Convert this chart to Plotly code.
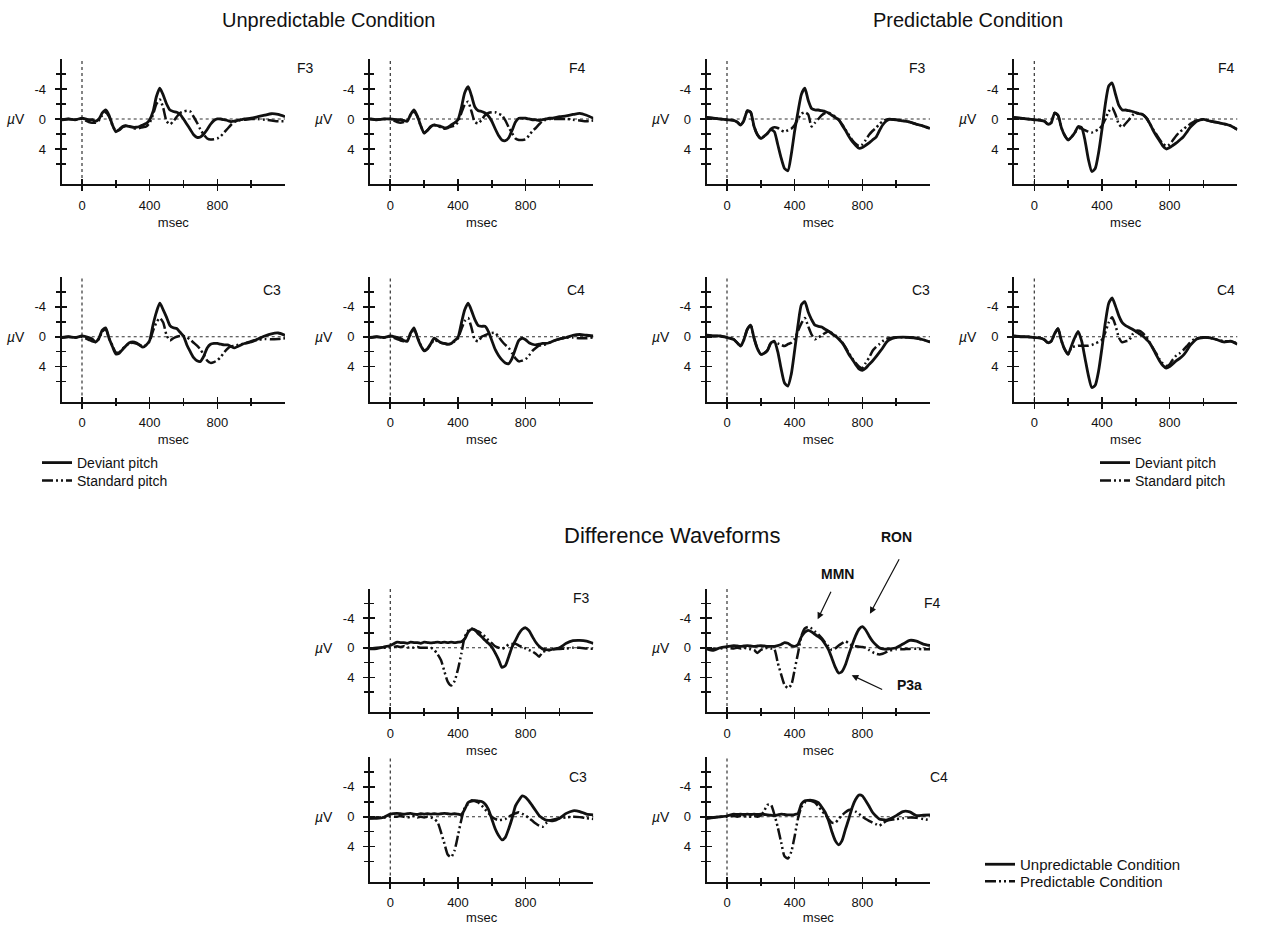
import plotly.graph_objects as go

# ---------------- data (time in ms, amplitude in microvolts) ----------------
T = [-120, -80, -40, 0, 40,
     60, 80, 100, 120, 140, 160, 180, 200, 220, 240,
     260, 280, 300, 320, 340, 360, 380, 400, 420, 440,
     460, 480, 500, 520, 540, 560, 580, 600, 620, 640,
     660, 680, 700, 720, 740, 760, 780, 800, 820, 840,
     860, 880, 900, 920, 940, 960,
     1000, 1040, 1080, 1120, 1160, 1200]

# Unpredictable condition
UF3_DEV = [0.1, 0.0, 0.1, -0.1, 0.1,
           0.1, 0.3, 0.0, -0.8, -1.2, -0.5, 0.8, 1.7, 1.4, 1.0,
           0.9, 1.0, 1.1, 1.1, 1.0, 0.8, 0.6, 0.1, -1.0, -3.0,
           -4.1, -3.2, -2.0, -1.2, -1.0, -0.9, -0.6, 0.0, 0.7, 1.4,
           2.1, 2.45, 2.4, 2.0, 1.4, 0.7, 0.2, 0.0, 0.0, 0.1,
           0.2, 0.35, 0.3, 0.2, 0.1, 0.0,
           -0.1, -0.3, -0.5, -0.7, -0.6, -0.3]
UF3_STD = [0.1, 0.0, 0.1, 0.0, 0.4,
           0.5, 0.5, 0.2, -0.5, -0.9, -0.3, 0.8, 1.6, 1.5, 1.1,
           0.9, 1.0, 1.2, 1.3, 1.2, 1.1, 1.0, 0.5, -0.6, -2.0,
           -2.6, -1.5, 0.3, 0.7, 0.3, -0.3, -0.8, -1.0, -1.1, -1.0,
           -0.3, 0.5, 1.4, 2.1, 2.6, 2.75, 2.7, 2.6, 2.3, 1.8,
           1.3, 0.8, 0.4, 0.2, 0.1, 0.1,
           0.0, 0.0, 0.1, 0.2, 0.3, 0.3]
UF4_DEV = [0.0, 0.1, 0.0, 0.0, 0.1,
           0.1, 0.2, 0.3, -0.6, -1.2, -0.4, 0.9, 1.9, 1.5, 1.0,
           0.8, 0.9, 1.0, 1.2, 1.1, 0.8, 0.5, 0.1, -1.5, -3.5,
           -4.3, -3.1, -1.6, -1.1, -1.0, -0.8, -0.4, 0.3, 1.3, 2.2,
           2.8, 2.9, 2.5, 1.5, 0.4, -0.1, -0.1, -0.1, 0.0, 0.1,
           0.1, 0.2, 0.1, 0.0, -0.1, -0.1,
           -0.3, -0.4, -0.6, -0.75, -0.5, -0.1]
UF4_STD = [0.0, 0.1, 0.0, 0.0, 0.4,
           0.5, 0.4, 0.2, -0.5, -1.0, -0.3, 0.9, 1.8, 1.5, 1.0,
           0.8, 1.0, 1.1, 1.3, 1.2, 1.0, 0.9, 0.4, -0.8, -1.9,
           -2.3, -1.0, 0.4, 0.6, 0.1, -0.5, -0.8, -0.9, -0.9, -0.7,
           -0.5, 0.2, 1.1, 1.9, 2.6, 2.8, 2.8, 2.7, 2.2, 1.6,
           1.2, 0.7, 0.3, 0.1, 0.0, 0.0,
           0.0, 0.0, 0.1, 0.2, 0.3, 0.2]
UC3_DEV = [0.1, 0.0, 0.1, -0.1, 0.1,
           0.3, 0.7, 0.2, -0.9, -1.2, 0.2, 1.3, 2.3, 2.2, 1.7,
           1.2, 0.8, 0.7, 0.8, 1.1, 1.4, 1.1, 0.5, -1.6, -3.3,
           -4.5, -3.6, -2.6, -1.5, -1.2, -1.1, -0.6, -0.1, 1.1, 2.0,
           2.8, 3.2, 3.3, 2.6, 1.5, 1.0, 0.9, 0.9, 1.0, 1.1,
           1.1, 1.3, 1.5, 1.3, 1.1, 0.9,
           0.7, 0.3, -0.1, -0.4, -0.5, -0.2]
UC3_STD = [0.1, 0.0, 0.1, 0.0, 0.4,
           0.6, 0.7, 0.3, -0.7, -1.0, 0.2, 1.2, 2.1, 2.1, 1.6,
           1.2, 0.9, 0.8, 0.9, 1.1, 1.3, 1.1, 0.6, -0.8, -1.9,
           -2.5, -1.9, -0.2, 0.5, 0.2, 0.0, -0.1, -0.1, 0.1, 0.4,
           0.8, 1.2, 1.7, 2.4, 3.2, 3.5, 3.4, 3.15, 2.7, 2.1,
           1.6, 1.3, 1.2, 1.1, 1.0, 0.9,
           0.6, 0.4, 0.3, 0.35, 0.3, 0.2]
UC4_DEV = [0.1, 0.0, 0.1, -0.1, 0.1,
           0.2, 0.5, 0.6, -0.5, -1.2, 0.1, 1.2, 1.9, 1.6, 0.9,
           0.2, 0.5, 0.8, 0.9, 1.0, 0.9, 0.5, 0.1, -1.8, -3.6,
           -4.5, -3.5, -2.3, -1.5, -1.4, -1.4, -0.7, 0.5, 1.7, 2.5,
           3.1, 3.5, 3.6, 2.9, 1.6, 0.5, 0.2, 0.4, 0.8, 1.0,
           1.1, 1.0, 0.9, 0.9, 0.8, 0.6,
           0.3, 0.1, -0.2, -0.3, -0.2, -0.1]
UC4_STD = [0.1, 0.0, 0.1, 0.0, 0.3,
           0.5, 0.6, 0.5, -0.3, -1.0, 0.0, 1.1, 1.8, 1.6, 1.0,
           0.4, 0.6, 0.8, 0.9, 1.0, 0.9, 0.6, 0.2, -1.0, -2.1,
           -2.5, -1.2, 0.4, 0.6, 0.0, -0.2, -0.4, -0.5, -0.5, 0.0,
           0.6, 1.1, 1.5, 2.2, 2.9, 3.3, 3.2, 3.0, 2.5, 1.9,
           1.5, 1.2, 1.1, 1.0, 0.8, 0.6,
           0.3, 0.1, 0.1, 0.2, 0.2, 0.1]

# Predictable condition
PF3_DEV = [-0.2, -0.1, 0.0, 0.1, 0.2,
           0.4, 0.8, 0.2, -1.1, -0.9, 1.0, 2.1, 2.6, 2.3, 1.9,
           1.4, 1.7, 3.4, 5.2, 6.6, 6.9, 4.7, 1.6, -1.0, -3.3,
           -4.1, -2.5, -1.4, -1.2, -1.2, -1.1, -1.0, -0.8, -0.5, -0.2,
           0.1, 0.8, 1.5, 2.3, 3.0, 3.5, 3.9, 3.8, 3.5, 3.2,
           2.8, 2.45, 1.6, 0.8, 0.3, 0.05,
           0.1, 0.25, 0.4, 0.7, 0.95, 1.25]
PF3_STD = [-0.2, -0.1, 0.0, 0.1, 0.2,
           0.4, 0.8, 0.2, -1.1, -0.9, 1.0, 2.1, 2.6, 2.3, 1.9,
           1.3, 1.1, 1.2, 1.5, 1.7, 1.5, 1.3, 0.8, 0.0, -0.7,
           -0.9, -0.6, 1.0, 0.5, 0.0, -0.5, -0.8, -0.8, -0.6, -0.3,
           0.1, 0.7, 1.4, 2.1, 2.8, 3.3, 3.6, 3.4, 2.8, 2.1,
           1.6, 1.2, 0.7, 0.3, 0.1, 0.0,
           0.1, 0.25, 0.4, 0.7, 0.95, 1.25]
PF4_DEV = [-0.2, -0.1, 0.0, 0.1, 0.2,
           0.3, 0.7, 0.5, -0.8, -0.5, 1.15, 2.2, 2.8, 2.4, 1.8,
           1.0, 1.15, 2.9, 5.4, 7.0, 6.6, 4.5, 1.4, -2.0, -4.4,
           -4.8, -3.3, -1.8, -1.2, -1.2, -1.1, -1.0, -0.85, -0.7, -0.6,
           -0.2, 0.5, 1.4, 2.2, 2.9, 3.6, 4.0, 3.8, 3.5, 3.2,
           2.8, 2.4, 1.8, 1.15, 0.7, 0.3,
           0.05, 0.3, 0.45, 0.65, 0.9, 1.4]
PF4_STD = [-0.2, -0.1, 0.0, 0.1, 0.2,
           0.3, 0.7, 0.5, -0.8, -0.5, 1.15, 2.2, 2.8, 2.4, 1.8,
           1.2, 1.3, 1.5, 1.7, 1.8, 1.6, 1.4, 0.9, 0.0, -1.0,
           -1.5, -0.6, 0.7, 1.1, 0.6, 0.1, -0.5, -0.8, -0.7, -0.6,
           -0.2, 0.5, 1.3, 2.0, 2.7, 3.3, 3.6, 3.4, 2.8, 2.2,
           1.7, 1.4, 1.0, 0.7, 0.4, 0.2,
           0.05, 0.3, 0.45, 0.65, 0.9, 1.4]
PC3_DEV = [-0.2, -0.1, -0.1, 0.1, 0.35,
           0.8, 1.25, 0.4, -1.0, -1.55, 0.2, 1.6, 2.35, 2.2, 1.8,
           0.8, 0.6, 2.0, 4.3, 6.2, 6.6, 5.0, 1.8, -1.6, -4.3,
           -4.7, -3.3, -2.3, -1.55, -1.4, -1.3, -1.0, -0.75, -0.4, -0.1,
           0.3, 0.8, 1.5, 2.35, 3.0, 3.7, 4.3, 4.5, 4.2, 3.7,
           3.25, 2.7, 2.1, 1.5, 0.8, 0.4,
           0.1, 0.05, 0.1, 0.2, 0.4, 0.7]
PC3_STD = [-0.2, -0.1, -0.1, 0.1, 0.35,
           0.8, 1.25, 0.4, -1.0, -1.55, 0.2, 1.6, 2.35, 2.2, 1.8,
           0.8, 0.7, 0.9, 1.1, 1.25, 1.0, 0.8, 0.3, -0.8, -1.8,
           -2.5, -1.4, -0.3, 0.35, 0.1, -0.2, -0.5, -0.75, -0.5, -0.2,
           0.2, 0.7, 1.4, 2.2, 2.9, 3.5, 4.0, 4.2, 3.5, 2.8,
           1.9, 1.4, 1.0, 0.6, 0.3, 0.2,
           0.1, 0.05, 0.1, 0.2, 0.4, 0.7]
PC4_DEV = [-0.1, 0.0, 0.0, 0.1, 0.2,
           0.4, 0.8, 0.6, -0.4, -1.1, 0.5, 1.7, 2.35, 1.2, 0.1,
           -0.7, 0.6, 2.9, 5.2, 6.8, 6.5, 4.6, 1.5, -1.9, -4.5,
           -5.2, -4.1, -2.8, -1.9, -1.5, -1.25, -1.0, -0.7, -0.4, -0.15,
           0.3, 0.75, 1.5, 2.4, 3.2, 3.85, 4.2, 4.0, 3.6, 3.2,
           2.9, 2.5, 1.9, 1.2, 0.7, 0.3,
           0.1, 0.15, 0.4, 0.7, 0.6, 1.0]
PC4_STD = [-0.1, 0.0, 0.0, 0.1, 0.2,
           0.4, 0.8, 0.6, -0.4, -1.1, 0.5, 1.7, 2.35, 1.4, 1.3,
           1.2, 1.2, 1.2, 1.2, 1.1, 0.9, 0.7, 0.4, -0.6, -1.9,
           -2.6, -1.5, 0.1, 0.75, 0.6, 0.5, -0.3, -0.8, -0.8, -0.5,
           0.0, 0.7, 1.5, 2.2, 3.0, 3.6, 3.9, 3.7, 3.0, 2.5,
           2.2, 1.8, 1.3, 0.8, 0.4, 0.2,
           0.1, 0.15, 0.4, 0.6, 0.6, 0.9]

# Difference waveforms (deviant minus standard)
DF3_UNP = [0.15, 0.1, -0.1, -0.3, -0.75,
           -0.7, -0.7, -0.6, -0.75, -0.7, -0.7, -0.6, -0.75, -0.7, -0.65,
           -0.7, -0.75, -0.7, -0.75, -0.7, -0.75, -0.7, -0.75, -0.8, -1.2,
           -2.1, -2.5, -2.4, -1.9, -1.5, -1.0, -0.6, -0.1, 0.7, 1.6,
           2.65, 2.4, 1.2, -0.1, -1.0, -1.9, -2.5, -2.7, -2.3, -1.5,
           -0.75, -0.2, 0.15, 0.25, 0.3, 0.2,
           0.0, -0.6, -0.95, -1.0, -0.9, -0.6]
DF3_PRE = [0.1, 0.0, 0.0, 0.0, -0.2,
           -0.1, -0.2, 0.0, -0.1, 0.0, -0.1, 0.0, 0.0, 0.0, 0.0,
           0.3, 0.9, 1.7, 3.2, 4.6, 5.1, 4.5, 2.9, 0.8, -1.45,
           -2.3, -2.6, -2.4, -2.2, -1.9, -1.5, -1.0, -0.6, -0.2, 0.0,
           0.15, -0.1, -0.45, -0.5, -0.55, -0.3, -0.1, 0.1, 0.3, 0.5,
           0.8, 1.2, 0.6, 0.4, 0.3, 0.2,
           0.15, 0.1, 0.0, 0.0, 0.1, 0.15]
DF4_UNP = [0.15, 0.35, 0.0, -0.15, -0.3,
           -0.25, -0.2, -0.25, -0.3, -0.25, -0.2, -0.25, -0.3, -0.25, -0.2,
           -0.2, -0.2, -0.3, -0.45, -0.7, -0.6, -0.3, -0.2, -0.45, -1.5,
           -2.1, -2.35, -2.15, -1.8, -1.5, -1.15, -0.5, 0.25, 1.4, 2.6,
           3.4, 3.2, 2.3, 0.9, -0.4, -1.6, -2.5, -2.85, -2.4, -1.6,
           -0.9, -0.4, 0.0, 0.15, 0.2, 0.15,
           0.0, -0.5, -1.0, -0.9, -0.5, -0.3]
DF4_PRE = [0.1, 0.2, 0.1, 0.0, 0.1,
           0.0, 0.1, 0.0, 0.1, 0.2, 0.3, 0.7, 0.3, 0.1, 0.0,
           0.1, 0.2, 2.0, 3.6, 5.0, 5.45, 5.0, 2.95, 0.7, -1.6,
           -2.6, -2.8, -2.6, -2.2, -1.8, -1.3, -0.7, -0.2, 0.3, 0.1,
           -0.3, -0.6, -0.9, -0.6, -0.3, -0.2, -0.15, -0.1, 0.0, 0.3,
           0.6, 0.8, 0.9, 0.8, 0.6, 0.4,
           0.2, 0.2, 0.15, 0.15, 0.2, 0.2]
DC3_UNP = [0.2, 0.2, 0.1, -0.35, -0.45,
           -0.4, -0.35, -0.4, -0.45, -0.35, -0.3, -0.4, -0.35, -0.4, -0.35,
           -0.4, -0.35, -0.4, -0.45, -0.4, -0.35, -0.4, -0.35, -0.3, -1.0,
           -1.9, -2.1, -2.15, -2.1, -2.05, -1.7, -1.0, 0.3, 1.6, 2.5,
           3.1, 2.75, 1.6, 0.2, -1.45, -2.2, -2.8, -2.6, -2.1, -1.45,
           -0.8, -0.15, 0.2, 0.45, 0.5, 0.55,
           0.2, -0.45, -0.8, -0.7, -0.35, -0.25]
DC3_PRE = [0.2, 0.1, 0.1, 0.0, 0.0,
           -0.1, 0.0, 0.1, 0.0, -0.1, 0.1, 0.0, 0.1, 0.0, 0.1,
           0.3, 0.75, 2.1, 3.6, 5.1, 5.4, 4.5, 2.5, 0.4, -1.2,
           -1.7, -2.2, -2.1, -1.9, -1.5, -1.0, -0.5, 0.0, 0.3, 0.45,
           0.4, 0.3, 0.0, -0.25, -0.45, -0.6, -0.4, -0.15, 0.2, 0.55,
           0.9, 1.2, 1.35, 0.9, 0.55, 0.4,
           0.2, 0.1, 0.0, 0.05, 0.2, 0.3]
DC4_UNP = [0.2, 0.1, 0.0, -0.1, -0.35,
           -0.3, -0.35, -0.3, -0.35, -0.3, -0.35, -0.3, -0.35, -0.3, -0.25,
           -0.2, -0.15, -0.25, -0.35, -0.3, -0.25, -0.25, -0.3, -0.45, -1.7,
           -2.15, -2.2, -2.2, -2.1, -1.9, -1.3, -0.6, 0.5, 2.0, 3.2,
           3.75, 3.2, 1.7, 0.3, -1.25, -2.3, -2.9, -2.8, -2.15, -1.4,
           -0.6, -0.1, 0.3, 0.4, 0.45, 0.3,
           -0.15, -0.7, -0.65, -0.15, -0.2, -0.25]
DC4_PRE = [0.2, 0.1, 0.0, 0.0, -0.1,
           0.0, -0.1, 0.0, -0.1, 0.0, -0.1, 0.0, -0.2, -0.8, -1.6,
           -1.6, -0.3, 1.4, 3.4, 5.3, 5.6, 4.7, 2.6, 0.2, -1.3,
           -1.9, -2.2, -2.1, -1.9, -1.4, -0.8, -0.3, 0.3, 0.8, 0.8,
           0.3, -0.2, -0.6, -0.9, -0.95, -0.7, -0.4, 0.0, 0.3, 0.55,
           0.8, 1.0, 1.2, 0.9, 0.6, 0.45,
           0.3, 0.2, 0.1, 0.15, 0.3, 0.45]

X_TICKS = [0, 400, 800]
X_TICK_TEXT = ['0', '400', '800']
X_MINOR = [200, 600, 1000]
Y_TICKS = [-4, 0, 4]
Y_TICK_TEXT = ['-4', '0', '4']
Y_MINOR = [-6, -2, 2, 6]

# ---------------- layout geometry (pixels) ----------------
W, H = 1264, 925
FONT = 'Liberation Sans, Arial, Helvetica, sans-serif'
COLX = {'A': 61.7, 'B': 370.0, 'C': 706.7, 'D': 1014.0}
ROWY = {1: (59.0, 184.0), 2: (277.0, 401.5), 3: (588.5, 712.0), 4: (757.0, 881.5)}
PW = 223.3
XR = [-120, 1200]
YR = [8.67, -8]

# (label, col, row, solid series, dashed series, legend ids, solid name, dashed name, label right px, label y px)
panels = [
    ('F3', 'A', 1, UF3_DEV, UF3_STD, ('legend', 'legend2'), 'Deviant pitch', 'Standard pitch', 316, 68),
    ('F4', 'B', 1, UF4_DEV, UF4_STD, ('legend', 'legend2'), 'Deviant pitch', 'Standard pitch', 588, 68),
    ('F3', 'C', 1, PF3_DEV, PF3_STD, ('legend3', 'legend4'), 'Deviant pitch', 'Standard pitch', 928, 68),
    ('F4', 'D', 1, PF4_DEV, PF4_STD, ('legend3', 'legend4'), 'Deviant pitch', 'Standard pitch', 1237, 68),
    ('C3', 'A', 2, UC3_DEV, UC3_STD, ('legend', 'legend2'), 'Deviant pitch', 'Standard pitch', 283, 290),
    ('C4', 'B', 2, UC4_DEV, UC4_STD, ('legend', 'legend2'), 'Deviant pitch', 'Standard pitch', 587, 290),
    ('C3', 'C', 2, PC3_DEV, PC3_STD, ('legend3', 'legend4'), 'Deviant pitch', 'Standard pitch', 932, 290),
    ('C4', 'D', 2, PC4_DEV, PC4_STD, ('legend3', 'legend4'), 'Deviant pitch', 'Standard pitch', 1237, 290),
    ('F3', 'B', 3, DF3_UNP, DF3_PRE, ('legend5', 'legend6'), 'Unpredictable Condition', 'Predictable Condition', 592, 598),
    ('F4', 'C', 3, DF4_UNP, DF4_PRE, ('legend5', 'legend6'), 'Unpredictable Condition', 'Predictable Condition', 943, 603),
    ('C3', 'B', 4, DC3_UNP, DC3_PRE, ('legend5', 'legend6'), 'Unpredictable Condition', 'Predictable Condition', 589, 777),
    ('C4', 'C', 4, DC4_UNP, DC4_PRE, ('legend5', 'legend6'), 'Unpredictable Condition', 'Predictable Condition', 950, 777),
]

DASH = '11px,3px,2px,3px,2px,3px'
N = len(panels)
INK = '#111111'

fig = go.Figure()
layout = {}
annotations = []
shapes = []
seen_legends = set()


def ax_id(prefix, i):
    return prefix if i == 1 else f'{prefix}{i}'


for i, (lab, col, row, solid, dashed, legs, nsolid, ndashed, lx, ly) in enumerate(panels, start=1):
    xid, yid = ax_id('x', i), ax_id('y', i)
    show = legs[0] not in seen_legends
    seen_legends.add(legs[0])
    fig.add_trace(go.Scatter(x=T, y=solid, mode='lines', name=nsolid, legend=legs[0], showlegend=show,
                             line=dict(color=INK, width=2.8, shape='spline', smoothing=0.6),
                             xaxis=xid, yaxis=yid, hoverinfo='skip'))
    fig.add_trace(go.Scatter(x=T, y=dashed, mode='lines', name=ndashed, legend=legs[1], showlegend=show,
                             line=dict(color=INK, width=2.5, dash=DASH, shape='spline', smoothing=0.6),
                             xaxis=xid, yaxis=yid, hoverinfo='skip'))

    px0 = COLX[col]
    top, bot = ROWY[row]
    dom_x = [px0 / W, (px0 + PW) / W]
    dom_y = [1 - bot / H, 1 - top / H]
    layout[ax_id('xaxis', i)] = dict(
        domain=dom_x, anchor=yid, range=XR, showline=True, linewidth=2, linecolor=INK,
        ticks='outside', ticklen=5, tickwidth=1.6, tickcolor=INK,
        tickmode='array', tickvals=X_TICKS, ticktext=X_TICK_TEXT,
        minor=dict(tickmode='array', tickvals=X_MINOR, ticks='outside', ticklen=2, tickwidth=1.6, tickcolor=INK),
        showgrid=False, zeroline=False, fixedrange=True, ticklabelstandoff=3,
        tickfont=dict(family=FONT, size=13, color=INK),
        title=dict(text='msec', standoff=6, font=dict(family=FONT, size=13, color=INK)))
    layout[ax_id('yaxis', i)] = dict(
        domain=dom_y, anchor=xid, range=YR, showline=True, linewidth=2, linecolor=INK,
        ticks='outside', ticklen=5, tickwidth=1.6, tickcolor=INK,
        tickmode='array', tickvals=Y_TICKS, ticktext=Y_TICK_TEXT,
        minor=dict(tickmode='array', tickvals=Y_MINOR, ticks='outside', ticklen=4, tickwidth=1.6, tickcolor=INK),
        showgrid=False, zeroline=False, fixedrange=True, ticklabelstandoff=6,
        tickfont=dict(family=FONT, size=13, color=INK))

    # overlay axes giving the inward half of the crossing tick marks
    oxid, oyid = f'x{i + N}', f'y{i + N}'
    fig.add_trace(go.Scatter(x=[None], y=[None], mode='lines', showlegend=False,
                             xaxis=oxid, yaxis=oyid, hoverinfo='skip'))
    layout[f'xaxis{i + N}'] = dict(
        overlaying=xid, anchor=oyid, range=XR, showline=False, showticklabels=False,
        ticks='inside', ticklen=5, tickwidth=1.6, tickcolor=INK,
        tickmode='array', tickvals=X_TICKS,
        minor=dict(tickmode='array', tickvals=X_MINOR, ticks='inside', ticklen=4, tickwidth=1.6, tickcolor=INK),
        showgrid=False, zeroline=False, fixedrange=True)
    layout[f'yaxis{i + N}'] = dict(
        overlaying=yid, anchor=oxid, range=YR, showline=False, showticklabels=False,
        ticks='inside', ticklen=5, tickwidth=1.6, tickcolor=INK,
        tickmode='array', tickvals=Y_TICKS,
        minor=dict(tickmode='array', tickvals=Y_MINOR, ticks='inside', ticklen=4, tickwidth=1.6, tickcolor=INK),
        showgrid=False, zeroline=False, fixedrange=True)

    # dotted reference lines (0 uV and stimulus onset)
    shapes.append(dict(type='line', xref=f'{xid} domain', x0=0, x1=1, yref=yid, y0=0, y1=0,
                       line=dict(color='#333333', width=1.2, dash='dot'), layer='below'))
    shapes.append(dict(type='line', xref=xid, x0=0, x1=0, yref=f'{yid} domain', y0=0, y1=1,
                       line=dict(color='#333333', width=1.2, dash='dot'), layer='below'))

    # electrode label and uV label
    annotations.append(dict(text=lab, xref='paper', yref='paper', x=lx / W, y=1 - ly / H,
                            xanchor='right', yanchor='middle', showarrow=False,
                            font=dict(family=FONT, size=14, color=INK)))
    annotations.append(dict(text='<i>\u00b5</i>V', xref='paper', yref=yid, x=(px0 - 46) / W, y=0,
                            xanchor='center', yanchor='middle', showarrow=False,
                            font=dict(family=FONT, size=14, color=INK)))

# group titles
for txt, cx, cy, fs in [('Unpredictable Condition', 328, 20, 20), ('Predictable Condition', 968, 20, 20),
                        ('Difference Waveforms', 672, 535, 22)]:
    annotations.append(dict(text=txt, xref='paper', yref='paper', x=cx / W, y=1 - cy / H,
                            xanchor='center', yanchor='middle', showarrow=False,
                            font=dict(family=FONT, size=fs, color=INK)))

# component labels with arrows in the F4 difference panel
for txt, cx, cy in [('MMN', 837, 574), ('RON', 896, 537), ('P3a', 910, 685)]:
    annotations.append(dict(text='<b>' + txt + '</b>', xref='paper', yref='paper', x=cx / W, y=1 - cy / H,
                            xanchor='center', yanchor='middle', showarrow=False,
                            font=dict(family=FONT, size=14, color=INK)))
for tx, ty, axp, ayp in [(536, -3.85, 14, -29), (845, -4.6, 30, -56), (737, 3.7, 32, 15)]:
    annotations.append(dict(text='', xref='x10', yref='y10', x=tx, y=ty, ax=axp, ay=ayp,
                            showarrow=True, arrowhead=2, arrowsize=1.1, arrowwidth=1.2,
                            arrowcolor=INK, standoff=0))

legend_style = dict(bgcolor='rgba(0,0,0,0)', borderwidth=0, tracegroupgap=0, itemwidth=30,
                    xanchor='left', yanchor='top', itemclick=False, itemdoubleclick=False)
# one legend per entry so each row sits exactly where the reference has it
for lid, lxp, lyp, fs in [('legend', 37, 447, 14), ('legend2', 37, 465, 14),
                          ('legend3', 1095, 447, 14), ('legend4', 1095, 465, 14),
                          ('legend5', 980, 848, 15), ('legend6', 980, 865, 15)]:
    layout[lid] = dict(x=lxp / W, y=1 - lyp / H, font=dict(family=FONT, size=fs, color=INK), **legend_style)

fig.update_layout(
    width=W, height=H, autosize=False, template='none',
    margin=dict(l=0, r=0, t=0, b=0),
    paper_bgcolor='white', plot_bgcolor='rgba(0,0,0,0)',
    showlegend=True, annotations=annotations, shapes=shapes,
    font=dict(family=FONT, color=INK),
    **layout)

fig.write_html('out.html', config={'displayModeBar': False, 'staticPlot': True},
               post_script="document.body.style.margin='0px';document.body.style.overflow='hidden';")
